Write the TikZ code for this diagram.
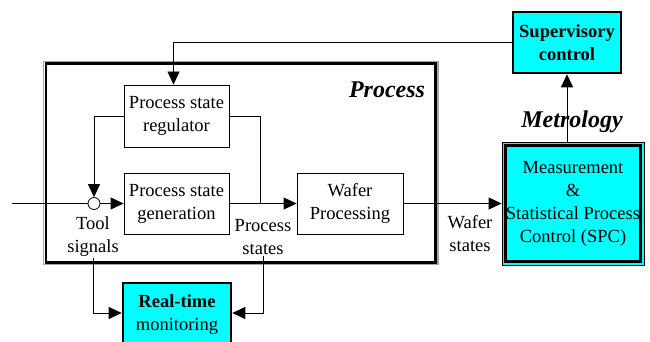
\documentclass[tikz,border=0pt]{standalone}
\usepackage{fontspec}
\setmainfont{Liberation Serif}
\usepackage{tikz}
\usetikzlibrary{arrows.meta}
\definecolor{boxcyan}{RGB}{0,255,255}

\begin{document}
\begin{tikzpicture}[x=1pt, y=-1pt,
    box/.style={draw, line width=0.8pt, inner sep=0pt, align=center, font=\fontsize{18.5}{23}\selectfont},
    hot/.style={box, fill=boxcyan, line width=2.6pt},
    lbl/.style={inner sep=1pt, align=center, font=\fontsize{18.5}{23}\selectfont},
    ttl/.style={inner sep=0pt, font=\fontsize{24}{28}\selectfont\bfseries\itshape},
    arr/.style={-{Triangle[length=13pt,width=12pt]}, line width=0.8pt},
    ln/.style={line width=0.8pt}
]
    \useasboundingbox (0,0) rectangle (650,342);

    % process frame
    \draw[gray!70, line width=1.2pt] (43.5,61.5) rectangle (438,264.5);
    \draw[line width=2.6pt] (45.8,63.8) rectangle (435.7,262.2);
    \node[ttl] (proc) at (387,90) {Process};

    \node[box, minimum width=105pt, minimum height=62pt] (reg) at (176.5,116) {Process state\\regulator};
    \node[box, minimum width=105pt, minimum height=61pt] (gen) at (176.5,203.5) {Process state\\generation};
    \node[box, minimum width=106pt, minimum height=61pt] (wafer) at (350,203.5) {Wafer\\Processing};
    \node[draw, ln, circle, fill=white, minimum size=12pt, inner sep=0pt] (sum) at (94,203.5) {};

    \node[lbl] (tool) at (93,237) {Tool\\signals};
    \node[lbl] (pstates) at (263,237) {Process\\states};
    \node[lbl] (wstates) at (470,233.5) {Wafer\\states};

    \node[hot, minimum width=108pt, minimum height=64pt] (rtm) at (177,315) {\textbf{Real-time}\\monitoring};
    \node[hot, minimum width=108pt, minimum height=61pt, font=\fontsize{18.5}{23}\selectfont\bfseries] (sup) at (567,42.5) {Supervisory\\control};
    \node[box, fill=boxcyan, minimum width=142pt, minimum height=123pt] (meas) at (573,203.5) {Measurement\\\&\\Statistical Process\\Control (SPC)};
    \draw[line width=2.6pt] ([shift={(4,4)}]meas.north west) rectangle ([shift={(-4,-4)}]meas.south east);
    \node[ttl] (metro) at (572,122) {Metrology};

    \coordinate (in) at (12,203.5);
    \coordinate (br) at (260,203.5);

    \draw[ln] (in) -- (sum.west);
    \draw[arr] (sum.east) -- (gen.west);
    \draw[arr] (gen.east) -- (wafer.west);
    \draw[ln] (br) |- (reg.east);
    \draw[arr] (reg.west) -| (sum.north);
    \draw[arr] (sup.west) -| ([xshift=-3pt]reg.north);
    \draw[arr] (wafer.east) -- (meas.west);
    \draw[arr] (sup.south |- meas.north) -- (sup.south);
    \draw[arr] (tool.south) |- ([yshift=2pt]rtm.west);
    \draw[arr] (pstates.south) |- ([yshift=2pt]rtm.east);
\end{tikzpicture}
\end{document}
